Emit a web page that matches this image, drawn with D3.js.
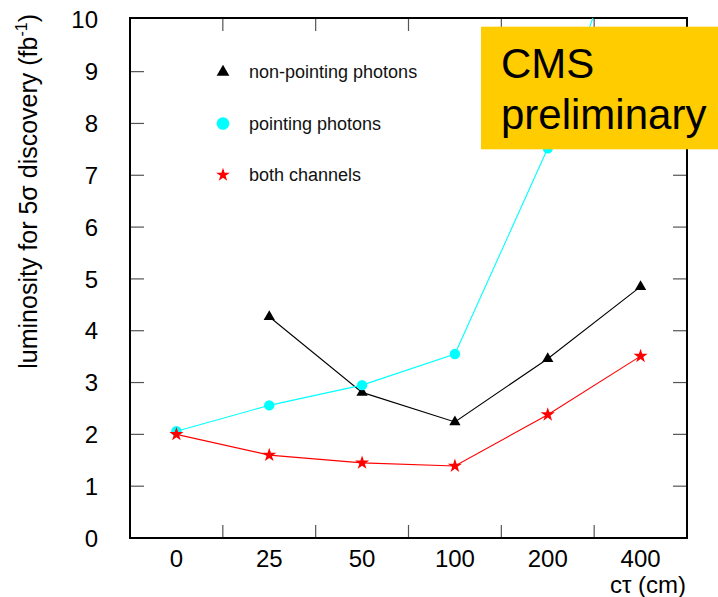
<!DOCTYPE html>
<html>
<head>
<meta charset="utf-8">
<script src="https://cdn.jsdelivr.net/npm/d3@7"></script>
<style>
  html, body { margin: 0; padding: 0; background: #fff; }
  svg { display: block; font-family: "Liberation Sans", Arial, Helvetica, sans-serif; }
</style>
</head>
<body>
<svg id="chart" width="718" height="597"></svg>
<script>
// decay length bins (cm)
const categories = ["0", "25", "50", "100", "200", "400"];
// luminosity needed for a 5 sigma discovery, per channel
const nonPointing = [null, 4.27, 2.81, 2.24, 3.46, 4.85];
const pointing    = [2.06, 2.56, 2.95, 3.55, 7.52, 12.7];
const both        = [2.00, 1.60, 1.45, 1.39, 2.38, 3.51];
const yTicks = [0, 1, 2, 3, 4, 5, 6, 7, 8, 9, 10];
const legendLabels = ["non-pointing photons", "pointing photons", "both channels"];

const svg = d3.select("#chart");
const plotLeft = 130, plotRight = 687, plotBottom = 538, plotTop = 18;

const x = d3.scaleBand().domain(categories).range([plotLeft, plotRight]).padding(0);
const y = d3.scaleLinear().domain([0, 10.035]).range([plotBottom, plotTop]);

// clip region for the curves
svg.append("defs").append("clipPath").attr("id", "plotClip")
  .append("rect").attr("x", plotLeft).attr("y", plotTop)
  .attr("width", plotRight - plotLeft).attr("height", plotBottom - plotTop);

// tick marks on all four sides
const tickLen = 14;
const tickG = svg.append("g").attr("stroke", "#555").attr("stroke-width", 1.2);
const bounds = categories.slice(1).map(c => x(c));
bounds.forEach(bx => {
  tickG.append("line").attr("x1", bx).attr("x2", bx).attr("y1", plotBottom).attr("y2", plotBottom - tickLen + 1);
  tickG.append("line").attr("x1", bx).attr("x2", bx).attr("y1", plotTop).attr("y2", plotTop + tickLen - 1);
});
yTicks.slice(1, -1).forEach(v => {
  tickG.append("line").attr("x1", plotLeft).attr("x2", plotLeft + tickLen).attr("y1", y(v)).attr("y2", y(v));
  tickG.append("line").attr("x1", plotRight).attr("x2", plotRight - tickLen).attr("y1", y(v)).attr("y2", y(v));
});

// frame
svg.append("rect").attr("x", plotLeft).attr("y", plotTop)
  .attr("width", plotRight - plotLeft).attr("height", plotBottom - plotTop)
  .attr("fill", "none").attr("stroke", "#000").attr("stroke-width", 2);

// tick labels
svg.append("g").selectAll("text").data(yTicks).join("text")
  .attr("x", 98).attr("y", d => y(d)).attr("dy", "0.36em")
  .attr("text-anchor", "end").attr("font-size", 24).attr("fill", "#000")
  .text(d => d);
svg.append("g").selectAll("text").data(categories).join("text")
  .attr("x", d => x(d) + x.bandwidth() / 2).attr("y", 566.5)
  .attr("text-anchor", "middle").attr("font-size", 24).attr("fill", "#000")
  .text(d => d);

// axis titles
svg.append("text").attr("x", 686).attr("y", 593).attr("text-anchor", "end")
  .attr("font-size", 24).attr("fill", "#000").text("cτ (cm)");
const yt = svg.append("text").attr("transform", "translate(37,14) rotate(-90)")
  .attr("text-anchor", "end").attr("font-size", 25).attr("fill", "#000");
yt.append("tspan").text("luminosity for 5σ discovery (fb");
yt.append("tspan").attr("font-size", 16).attr("dy", -10).text("-1");
yt.append("tspan").attr("dy", 10).text(")");

// series
const series = [
  { values: nonPointing, color: "#000000", symbol: d3.symbolTriangle, size: 55, legendSize: 70 },
  { values: pointing,    color: "#00FFFF", symbol: d3.symbolCircle,   size: 85, legendSize: 125 },
  { values: both,        color: "#FF0000", symbol: d3.symbolStar,     size: 62, legendSize: 58 }
];

const plot = svg.append("g").attr("clip-path", "url(#plotClip)");
const cx = c => x(c) + x.bandwidth() / 2;
const line = d3.line().defined(d => d.v != null).x(d => cx(d.c)).y(d => y(d.v));

series.forEach(s => {
  const pts = categories.map((c, i) => ({ c, v: s.values[i] }));
  plot.append("path").datum(pts).attr("d", line)
    .attr("fill", "none").attr("stroke", s.color).attr("stroke-width", 1.1);
});
series.forEach(s => {
  const pts = categories.map((c, i) => ({ c, v: s.values[i] })).filter(d => d.v != null);
  plot.append("g").selectAll("path").data(pts).join("path")
    .attr("transform", d => `translate(${cx(d.c)},${y(d.v)})`)
    .attr("d", d3.symbol().type(s.symbol).size(s.size))
    .attr("fill", s.color);
});

// legend
const lg = svg.append("g");
series.forEach((s, i) => {
  const ly = 72 + i * 51.5;
  lg.append("path").attr("transform", `translate(223,${ly})`)
    .attr("d", d3.symbol().type(s.symbol).size(s.legendSize)).attr("fill", s.color);
  lg.append("text").attr("x", 249).attr("y", ly + 6).attr("font-size", 18).attr("fill", "#111")
    .text(legendLabels[i]);
});

// preliminary banner
svg.append("rect").attr("x", 481).attr("y", 26.7).attr("width", 718 - 481).attr("height", 122.6)
  .attr("fill", "#FFCC00");
svg.append("text").attr("x", 501).attr("y", 78).attr("font-size", 42).attr("fill", "#000").text("CMS");
svg.append("text").attr("x", 501).attr("y", 129).attr("font-size", 42).attr("fill", "#000").text("preliminary");
</script>
</body>
</html>
